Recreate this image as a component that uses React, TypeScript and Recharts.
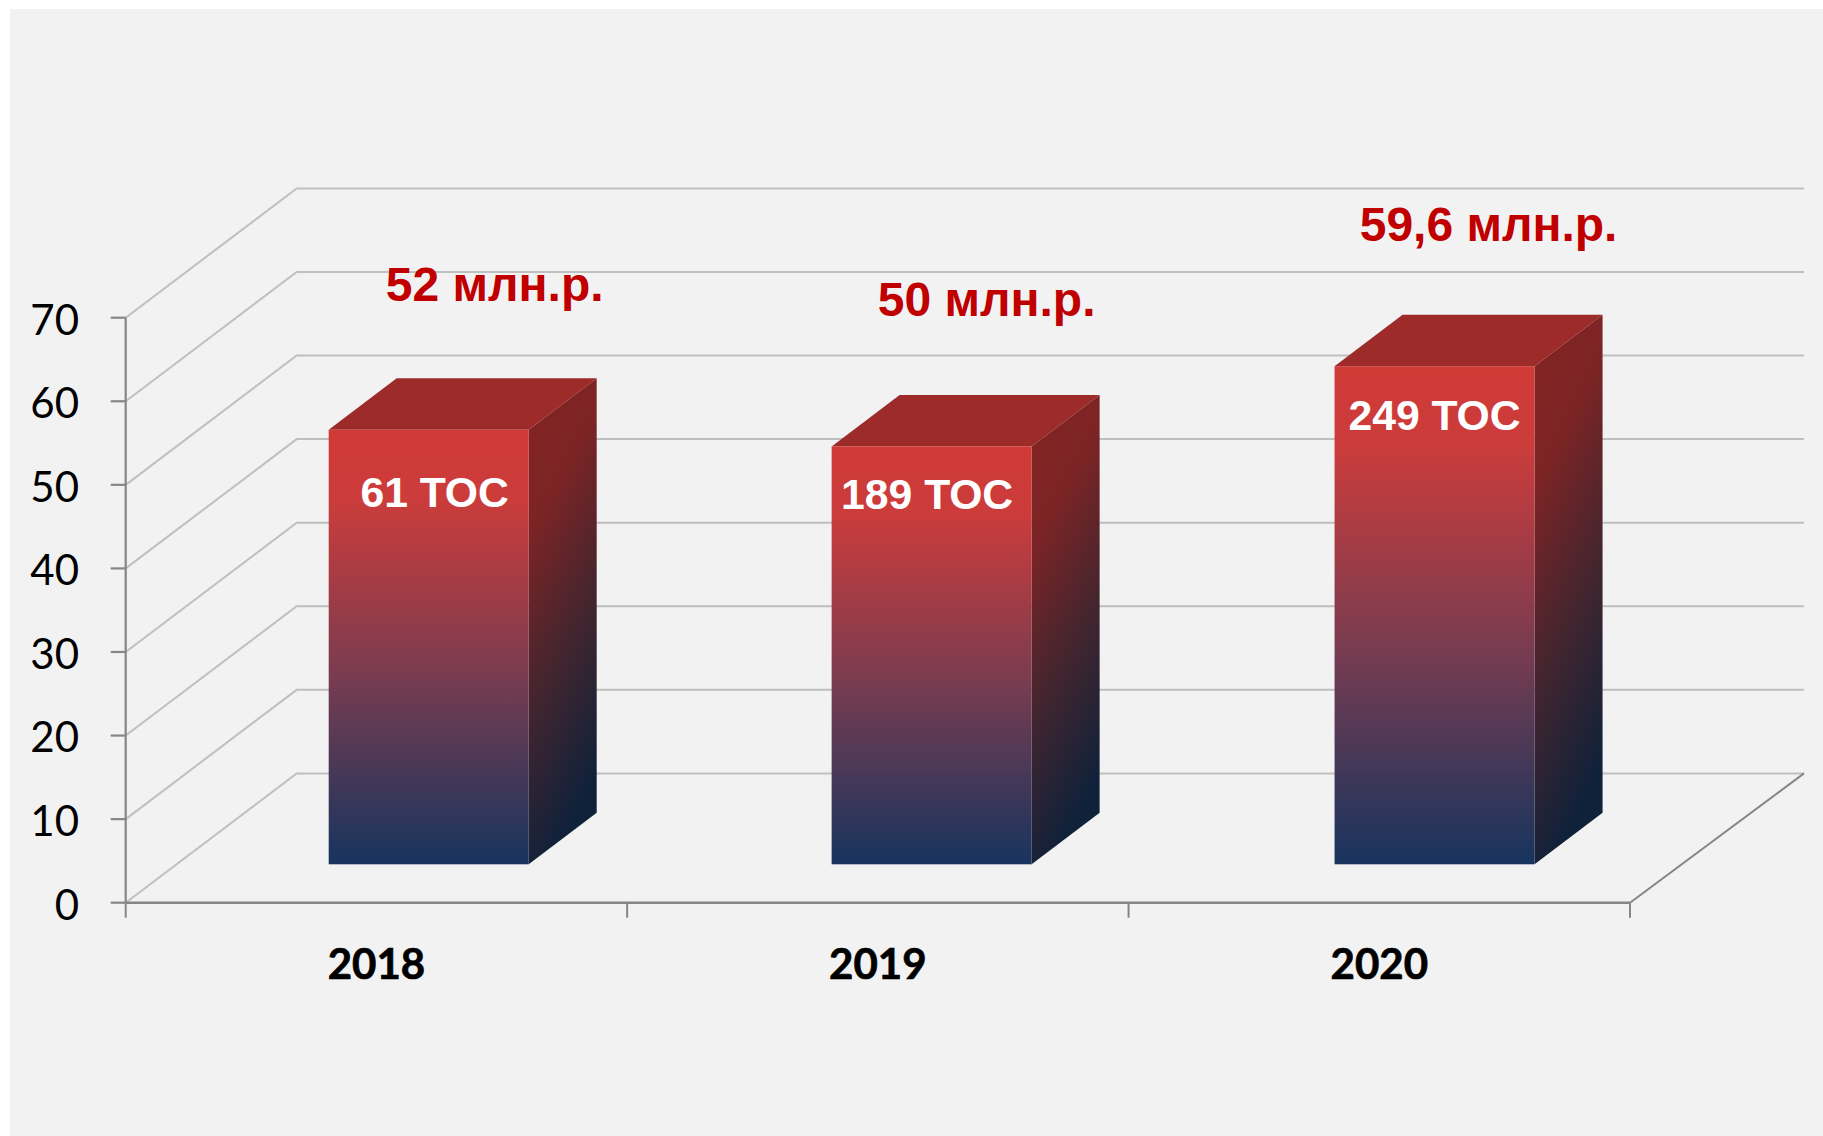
import { Bar, BarChart, CartesianGrid, LabelList, XAxis, YAxis } from "recharts";

const years = ["2018", "2019", "2020"];
const budgets = [52, 50, 59.6];
const tosCounts = [61, 189, 249];
const yTicks = [0, 10, 20, 30, 40, 50, 60, 70];

const data = years.map((year, i) => ({
  year,
  budget: budgets[i],
  tos: tosCounts[i],
}));

const GRID = "#bfbfbf";
const AXIS = "#868686";

// the fake 3D: walls run back by this much, bars stand part of the way in
const WALL_DX = 171;
const WALL_DY = 129.3;
const BAR_SHIFT_X = 52;
const BAR_SHIFT_Y = 38.4;
const DEPTH_X = 68;
const DEPTH_Y = 51.5;

// hand nudges, the boxes and free-floating labels are not aligned in the source
const barNudge = [0, 1.5, 3];
const budgetNudge = [
  { dx: 66, dy: -129 },
  { dx: 56.5, dy: -130 },
  { dx: 57, dy: -125.6 },
];
const tosNudge = [
  { dx: 6, dy: 77.5 },
  { dx: -3, dy: 62.5 },
  { dx: 3, dy: 64 },
];

function WallLine(p: any) {
  const { x1, x2, y1 } = p;
  const isFloor = y1 >= p.y + p.height - 0.5;
  const backX = x1 + WALL_DX;
  const backY = y1 - WALL_DY;
  const endX = x2 + WALL_DX + 3;
  return (
    <g key={p.key}>
      <polyline
        points={`${x1},${y1} ${backX},${backY} ${endX},${backY}`}
        fill="none"
        stroke={GRID}
        strokeWidth={2}
      />
      {isFloor && (
        <line x1={x2} y1={y1} x2={endX} y2={backY} stroke={AXIS} strokeWidth={2} />
      )}
    </g>
  );
}

function Box3D(p: any) {
  const left = p.x + BAR_SHIFT_X + barNudge[p.index];
  const right = left + p.width;
  const top = p.y - BAR_SHIFT_Y;
  const bottom = top + p.height;
  return (
    <g>
      <polygon
        points={`${left},${top} ${left + DEPTH_X},${top - DEPTH_Y} ${right + DEPTH_X},${top - DEPTH_Y} ${right},${top}`}
        fill="#9c2b2a"
      />
      <polygon
        points={`${right},${top} ${right + DEPTH_X},${top - DEPTH_Y} ${right + DEPTH_X},${bottom - DEPTH_Y} ${right},${bottom}`}
        fill="url(#sideFace)"
      />
      <rect x={left} y={top} width={p.width} height={p.height} fill="url(#frontFace)" />
    </g>
  );
}

function YearTick(p: any) {
  const band = p.width / p.visibleTicksCount;
  const edge = p.x - band / 2;
  const axisY = 902.7;
  return (
    <g>
      <line x1={edge} y1={axisY} x2={edge} y2={axisY + 15} stroke={AXIS} strokeWidth={2} />
      {p.index === p.visibleTicksCount - 1 && (
        <line x1={edge + band} y1={axisY} x2={edge + band} y2={axisY + 15} stroke={AXIS} strokeWidth={2} />
      )}
      <text
        x={p.x}
        y={979}
        textAnchor="middle"
        fontFamily="Lato"
        fontWeight={700}
        fontSize={42}
        stroke="#000"
        strokeWidth={0.7}
        fill="#000"
      >
        {p.payload.value}
      </text>
    </g>
  );
}

function BudgetLabel(p: any) {
  const n = budgetNudge[p.index];
  return (
    <text
      x={p.x + p.width / 2 + BAR_SHIFT_X + n.dx}
      y={p.y - BAR_SHIFT_Y + n.dy}
      textAnchor="middle"
      fontFamily="Liberation Sans"
      fontWeight={700}
      fontSize={48}
      fill="#c00000"
    >
      {`${String(p.value).replace(".", ",")} млн.р.`}
    </text>
  );
}

function TosLabel(p: any) {
  const n = tosNudge[p.index];
  return (
    <text
      x={p.x + p.width / 2 + BAR_SHIFT_X + n.dx}
      y={p.y - BAR_SHIFT_Y + n.dy}
      textAnchor="middle"
      fontFamily="Liberation Sans"
      fontWeight={700}
      fontSize={42.7}
      fill="#fff"
    >
      {`${p.value} ТОС`}
    </text>
  );
}

export default function App() {
  return (
    <div style={{ position: "absolute", left: 0, top: 0, width: 1823, height: 1136, overflow: "hidden", background: "#fff" }}>
      <div style={{ position: "absolute", left: 10, top: 9, width: 1813, height: 1127, background: "#f2f2f2" }} />
      <div style={{ position: "absolute", left: 0, top: 0 }}>
        <BarChart
          width={1823}
          height={1136}
          data={data}
          margin={{ top: 317.7, right: 193, bottom: 133.3, left: 0 }}
          barSize={200}
          style={{ overflow: "visible" }}
        >
          <defs>
            <linearGradient id="frontFace" x1="0" y1="0" x2="0" y2="1">
              <stop offset="0%" stopColor="#d03a37" />
              <stop offset="16%" stopColor="#cb3c3b" />
              <stop offset="56%" stopColor="#7a3c50" />
              <stop offset="100%" stopColor="#17345e" />
            </linearGradient>
            <linearGradient id="sideFace" x1="0" y1="0" x2="0.25" y2="1">
              <stop offset="0%" stopColor="#842321" />
              <stop offset="30%" stopColor="#7c2425" />
              <stop offset="66%" stopColor="#41252f" />
              <stop offset="100%" stopColor="#10213a" />
            </linearGradient>
          </defs>
          <CartesianGrid vertical={false} horizontal={WallLine} />
          <XAxis
            dataKey="year"
            height={100}
            interval={0}
            tickLine={false}
            axisLine={{ stroke: AXIS, strokeWidth: 2.4 }}
            tick={YearTick}
          />
          <YAxis
            width={125.7}
            domain={[0, 70]}
            ticks={yTicks}
            interval={0}
            tickSize={15}
            tickMargin={31.7}
            axisLine={{ stroke: AXIS, strokeWidth: 2.2 }}
            tickLine={{ stroke: AXIS, strokeWidth: 2.2 }}
            tick={{ fontFamily: "Lato", fontSize: 42, fill: "#000", dy: 2 }}
          />
          <Bar dataKey="budget" shape={Box3D} isAnimationActive={false}>
            <LabelList dataKey="budget" content={BudgetLabel} />
            <LabelList dataKey="tos" content={TosLabel} />
          </Bar>
        </BarChart>
      </div>
    </div>
  );
}
